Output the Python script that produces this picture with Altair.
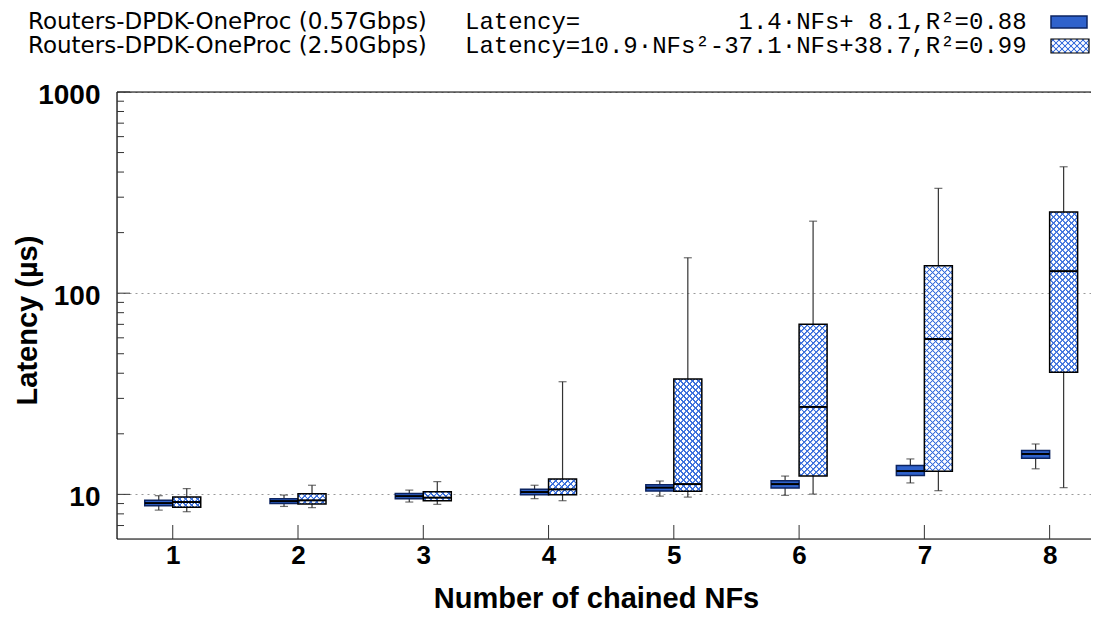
import math
import altair as alt
import pandas as pd

# ---------------- data ----------------
nf_values = [1, 2, 3, 4, 5, 6, 7, 8]
series_names = ["Routers-DPDK-OneProc (0.57Gbps)", "Routers-DPDK-OneProc (2.50Gbps)"]
fit_prefix = "Latency="
fit_formulas = ["1.4·NFs+ 8.1,R²=0.88", "10.9·NFs²-37.1·NFs+38.7,R²=0.99"]

low_057 = [8.35, 8.71, 9.16, 9.52, 9.80, 9.89, 11.40, 13.40]
q1_057 = [8.78, 9.02, 9.52, 9.97, 10.39, 10.75, 12.40, 15.10]
med_057 = [9.05, 9.26, 9.80, 10.27, 10.80, 11.25, 13.06, 15.88]
q3_057 = [9.34, 9.52, 10.10, 10.59, 11.17, 11.70, 13.90, 16.50]
high_057 = [9.85, 9.92, 10.50, 11.10, 11.65, 12.33, 15.00, 17.80]

low_250 = [8.20, 8.59, 8.92, 9.30, 9.69, 10.03, 10.43, 10.80]
q1_250 = [8.64, 8.95, 9.30, 9.97, 10.35, 12.33, 13.02, 40.4]
med_250 = [9.16, 9.34, 9.63, 10.59, 11.25, 27.2, 59.2, 128.7]
q3_250 = [9.69, 10.08, 10.30, 11.92, 37.5, 70.1, 137.0, 253.0]
high_250 = [10.68, 11.10, 11.57, 36.3, 150.0, 228.0, 332.0, 425.0]

y_major = [10, 100, 1000]
y_minor = [7, 8, 9, 20, 30, 40, 50, 60, 70, 80, 90,
           200, 300, 400, 500, 600, 700, 800, 900]

# ---------------- layout / style constants ----------------
W, H = 974, 447
PX_PER_NF = 125.27
X_DOMAIN = [0.555, 0.555 + W / PX_PER_NF]
Y_DOMAIN = [6, 1000]
BOX_PX = 28
bw = BOX_PX / PX_PER_NF

SOLID_FILL = "#2f62cc"
SOLID_STROKE = "#0c2461"
HATCH_COLOR = "#3a6fdc"
WHISKER = "#333333"
FONT = "Liberation Sans"
KEY_FONT = "DejaVu Sans"
MONO = "Liberation Mono"
KEY_FS = 23
MONO_FS = 24

rows = []
for i, n in enumerate(nf_values):
    rows.append(dict(nf=n, s=0, lo=low_057[i], q1=q1_057[i], med=med_057[i],
                     q3=q3_057[i], hi=high_057[i], x0=n - bw, x1=n, xc=n - bw / 2))
    rows.append(dict(nf=n, s=1, lo=low_250[i], q1=q1_250[i], med=med_250[i],
                     q3=q3_250[i], hi=high_250[i], x0=n, x1=n + bw, xc=n + bw / 2))
df = pd.DataFrame(rows)
df_a = df[df.s == 0].reset_index(drop=True)
df_b = df[df.s == 1].reset_index(drop=True)

xs = alt.Scale(domain=X_DOMAIN, nice=False, zero=False)
ys = alt.Scale(type="log", domain=Y_DOMAIN, nice=False)

x_axis = alt.Axis(values=nf_values, format="d", labelFont=FONT, labelFontSize=26,
                  labelFontWeight="bold", labelColor="black", ticks=False, tickSize=0,
                  domain=False, grid=False, labelPadding=3, labelOverlap=False,
                  labelFlush=False,
                  title="Number of chained NFs", titleFont=FONT, titleFontSize=29,
                  titleFontWeight="bold", titleColor="black", titleX=479, titleY=59,
                  titleAlign="center", titleBaseline="middle")
y_axis = alt.Axis(values=y_major, format="d", labelFont=FONT, labelFontSize=28,
                  labelFontWeight="bold", labelColor="black", ticks=False, tickSize=0,
                  domain=False, grid=True, gridDash=[2, 4], gridColor="#9a9a9a",
                  gridWidth=1, labelPadding=17, labelOffset=3, labelOverlap=False,
                  labelFlush=False,
                  title="Latency (µs)", titleFont=FONT, titleFontSize=29,
                  titleFontWeight="bold", titleColor="black", titleX=-90, titleY=228,
                  titleAlign="center", titleBaseline="middle", titleAngle=270)


def X(f):
    return alt.X(f"{f}:Q", scale=xs, axis=x_axis)


def Y(f):
    return alt.Y(f"{f}:Q", scale=ys, axis=y_axis)


def ypx(v):
    lo, hi = math.log10(Y_DOMAIN[0]), math.log10(Y_DOMAIN[1])
    return H * (hi - math.log10(v)) / (hi - lo)


def hatch_gradient(w, h, direction, period=6.0):
    L = w + h
    a = L / (w * w + h * h)
    if direction == 1:
        x1, y1, x2, y2 = 0, 0, a * w, a * h
    else:
        x1, y1, x2, y2 = 0, 1, a * w, 1 - a * h
    clear = "rgba(58,111,220,0)"
    stops = [{"offset": 0, "color": clear}]
    c = period / 2
    while c < L:
        for off, col in [(c - 1.1, clear), (c - 0.6, HATCH_COLOR),
                         (c + 0.6, HATCH_COLOR), (c + 1.1, clear)]:
            o = min(max(off / L, 0.0), 1.0)
            if o >= stops[-1]["offset"]:
                stops.append({"offset": o, "color": col})
        c += period
    stops.append({"offset": 1, "color": clear})
    return {"gradient": "linear", "x1": x1, "y1": y1, "x2": x2, "y2": y2,
            "stops": stops}


layers = []

# whiskers + caps
layers.append(alt.Chart(df).mark_rule(color=WHISKER, strokeWidth=1.2).encode(
    x=X("xc"), y=Y("lo"), y2="hi:Q"))
for fld in ["lo", "hi"]:
    layers.append(alt.Chart(df).mark_tick(orient="horizontal", size=8, thickness=1.2,
                                          color=WHISKER).encode(x=X("xc"), y=Y(fld)))

# solid boxes
layers.append(alt.Chart(df_a).mark_rect(fill=SOLID_FILL, stroke=SOLID_STROKE,
                                        strokeWidth=1.5).encode(
    x=X("x0"), x2="x1:Q", y=Y("q1"), y2="q3:Q"))

# hatched boxes: white base, cross-hatch overlays, black outline
layers.append(alt.Chart(df_b).mark_rect(fill="white").encode(
    x=X("x0"), x2="x1:Q", y=Y("q1"), y2="q3:Q"))
for i in range(len(df_b)):
    h = max(ypx(df_b.q1[i]) - ypx(df_b.q3[i]), 1.0)
    sub = df_b.iloc[[i]]
    for d in (1, 2):
        layers.append(alt.Chart(sub).mark_rect(fill=hatch_gradient(BOX_PX, h, d)).encode(
            x=X("x0"), x2="x1:Q", y=Y("q1"), y2="q3:Q"))
layers.append(alt.Chart(df_b).mark_rect(fillOpacity=0, stroke="black",
                                        strokeWidth=1.5).encode(
    x=X("x0"), x2="x1:Q", y=Y("q1"), y2="q3:Q"))

# medians
layers.append(alt.Chart(df).mark_rule(color="black", strokeWidth=2).encode(
    x=X("x0"), x2="x1:Q", y=Y("med")))

# frame (left, top, bottom)
one = pd.DataFrame({"k": [0]})
layers.append(alt.Chart(one).mark_rule(color="black", strokeWidth=1.2).encode(
    x=alt.value(0), y=alt.value(0), y2=alt.value(H)))
layers.append(alt.Chart(one).mark_rule(color="black", strokeWidth=1.2).encode(
    x=alt.value(0), x2=alt.value(W), y=alt.value(0)))
layers.append(alt.Chart(one).mark_rule(color="black", strokeWidth=1.2).encode(
    x=alt.value(0), x2=alt.value(W), y=alt.value(H)))

# inward ticks
maj = pd.DataFrame({"v": y_major})
mnr = pd.DataFrame({"v": y_minor})
for dfv, a0, a1 in [(maj, 0, 13), (mnr, 0, 7)]:
    layers.append(alt.Chart(dfv).mark_rule(color="#333333", strokeWidth=1).encode(
        y=Y("v"), x=alt.value(a0), x2=alt.value(a1)))
layers.append(alt.Chart(pd.DataFrame({"n": nf_values})).mark_rule(
    color="#333333", strokeWidth=1).encode(
    x=X("n"), y=alt.value(H - 14), y2=alt.value(H)))

# key (top)
key_y = [-70.5, -46]
mono_end = 348 + 39 * 0.6 * MONO_FS
for r in range(2):
    d1 = pd.DataFrame({"t": [series_names[r]]})
    layers.append(alt.Chart(d1).mark_text(align="left", baseline="middle", font=KEY_FONT,
                                          fontSize=KEY_FS, color="black").encode(
        x=alt.value(-89), y=alt.value(key_y[r]), text="t:N"))
    d2 = pd.DataFrame({"t": [fit_prefix]})
    layers.append(alt.Chart(d2).mark_text(align="left", baseline="middle", font=MONO,
                                          fontSize=MONO_FS, color="black").encode(
        x=alt.value(348), y=alt.value(key_y[r]), text="t:N"))
    d3 = pd.DataFrame({"t": [fit_formulas[r]]})
    layers.append(alt.Chart(d3).mark_text(align="right", baseline="middle", font=MONO,
                                          fontSize=MONO_FS, color="black").encode(
        x=alt.value(mono_end), y=alt.value(key_y[r]), text="t:N"))

layers.append(alt.Chart(one).mark_rect(fill=SOLID_FILL, stroke=SOLID_STROKE,
                                       strokeWidth=1.5).encode(
    x=alt.value(934), x2=alt.value(970), y=alt.value(-76), y2=alt.value(-64)))
layers.append(alt.Chart(one).mark_rect(fill="white").encode(
    x=alt.value(934), x2=alt.value(972), y=alt.value(-53), y2=alt.value(-39)))
for d in (1, 2):
    layers.append(alt.Chart(one).mark_rect(fill=hatch_gradient(38, 14, d)).encode(
        x=alt.value(934), x2=alt.value(972), y=alt.value(-53), y2=alt.value(-39)))
layers.append(alt.Chart(one).mark_rect(fillOpacity=0, stroke="black",
                                       strokeWidth=1.2).encode(
    x=alt.value(934), x2=alt.value(972), y=alt.value(-53), y2=alt.value(-39)))

chart = alt.layer(*layers).properties(
    width=W, height=H,
    padding={"left": 109, "top": 84, "right": 0, "bottom": 75},
    autosize=alt.AutoSizeParams(type="none"),
).configure_view(stroke=None).configure(background="white")

chart.save("out.html", embed_options={"renderer": "svg", "actions": False})
